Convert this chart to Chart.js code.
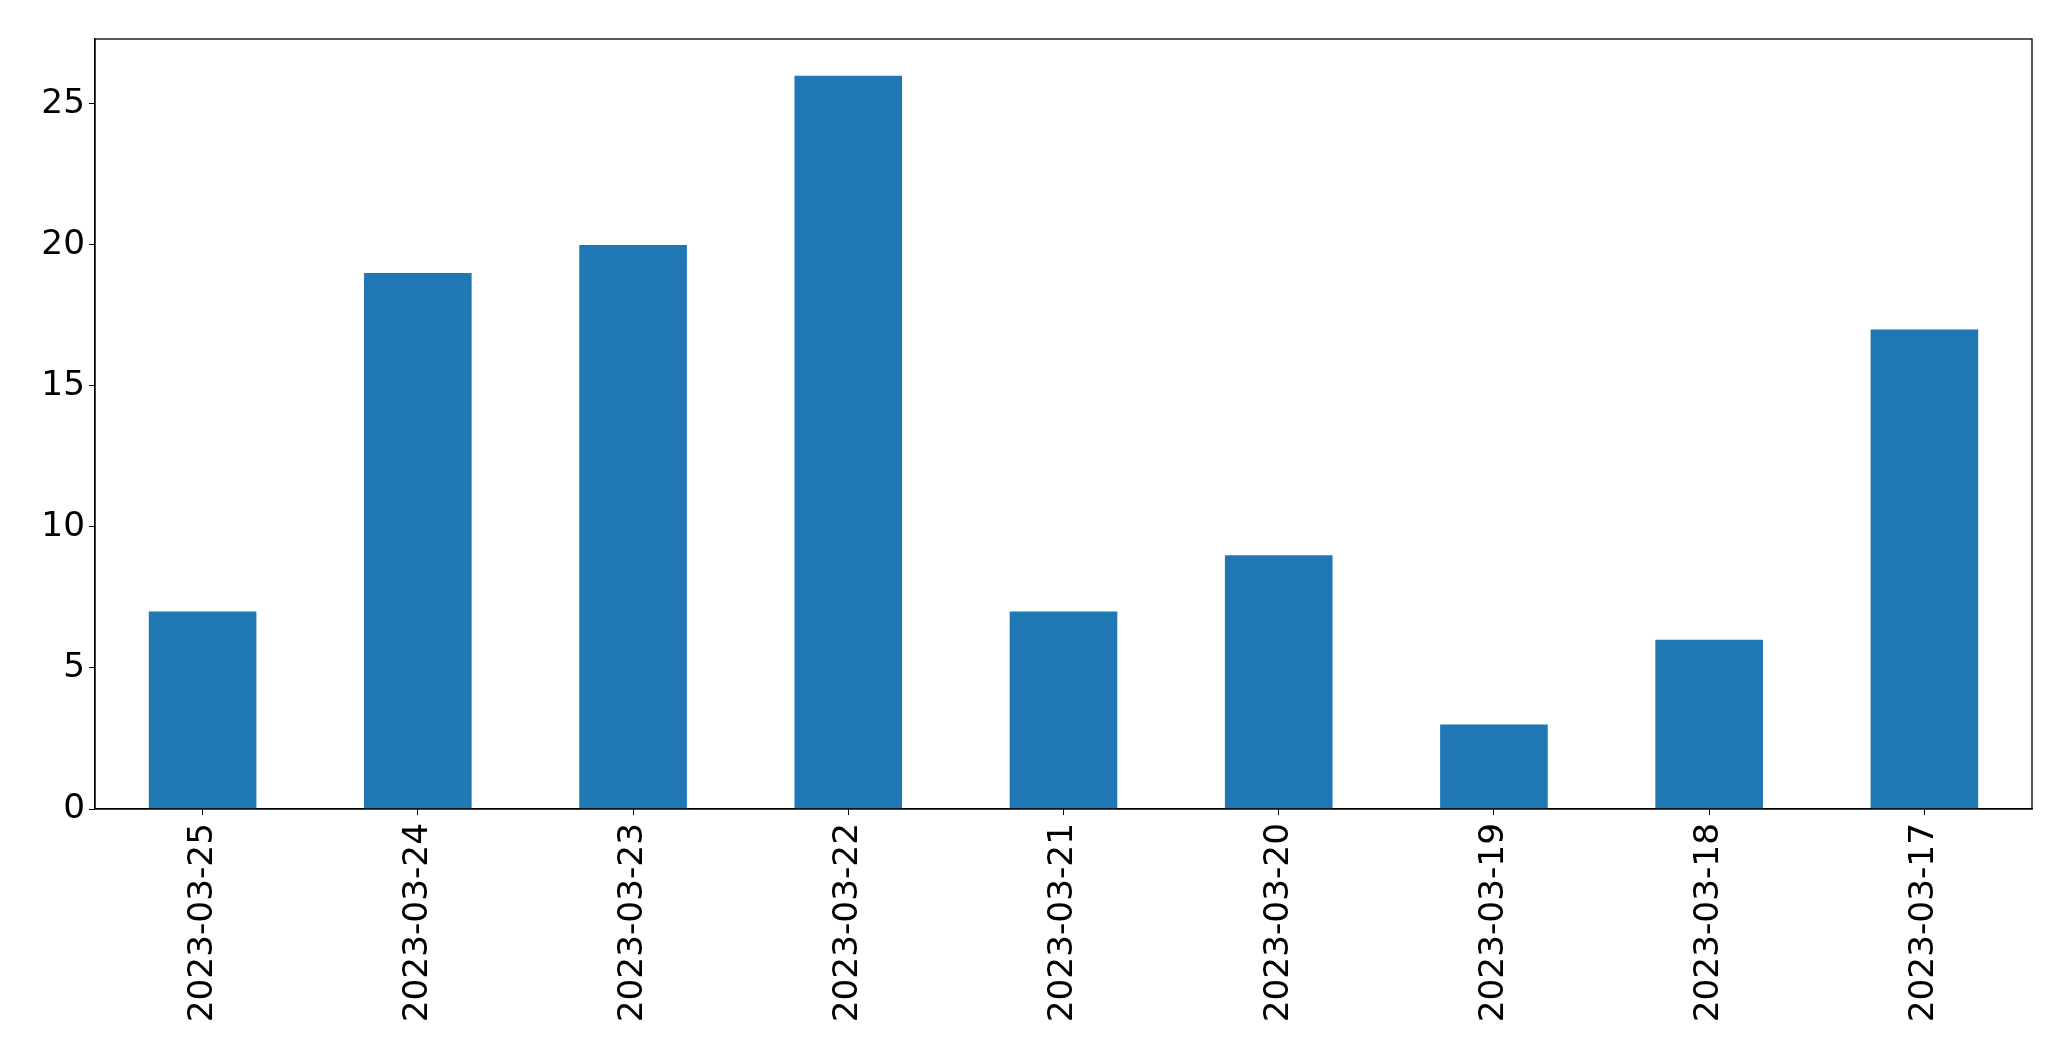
<!DOCTYPE html>
<html>
<head>
<meta charset="utf-8">
<script src="https://cdn.jsdelivr.net/npm/chart.js@4"></script>
<style>
  html, body { margin: 0; padding: 0; background: #fff; }
  #wrap { width: 2071px; height: 1061px; position: relative; }
</style>
</head>
<body>
<div id="wrap"><canvas id="c" width="2071" height="1061"></canvas></div>
<script>
const categories = ["2023-03-25","2023-03-24","2023-03-23","2023-03-22","2023-03-21","2023-03-20","2023-03-19","2023-03-18","2023-03-17"];
const counts = [7, 19, 20, 26, 7, 9, 3, 6, 17];
const yTicks = [0, 5, 10, 15, 20, 25];

const frame = {
  id: 'frame',
  afterDatasetsDraw(chart) {
    const a = chart.chartArea, ctx = chart.ctx;
    ctx.save();
    ctx.strokeStyle = '#000';
    ctx.lineWidth = 1.3;
    ctx.strokeRect(a.left, a.top, a.right - a.left, a.bottom - a.top);
    ctx.restore();
  }
};

const font = { family: 'DejaVu Sans', size: 34.3 };

new Chart(document.getElementById('c'), {
  type: 'bar',
  data: {
    labels: categories,
    datasets: [{
      data: counts,
      backgroundColor: '#1f77b4',
      borderWidth: 0,
      barPercentage: 0.5,
      categoryPercentage: 1.0
    }]
  },
  options: {
    responsive: false,
    animation: false,
    devicePixelRatio: 1,
    layout: { padding: { left: 0, right: 39, top: 39, bottom: 0 } },
    plugins: { legend: { display: false }, tooltip: { enabled: false } },
    scales: {
      x: {
        offset: true,
        grid: { drawOnChartArea: false, drawTicks: true, tickLength: 6, tickColor: '#000', offset: false },
        border: { display: true, color: '#000', width: 1.3 },
        ticks: { color: '#000', font, minRotation: 90, maxRotation: 90, padding: 8, autoSkip: false },
        afterFit(scale) { scale.height = 252; }
      },
      y: {
        min: 0,
        max: 27.3,
        grid: { drawOnChartArea: false, drawTicks: true, tickLength: 6, tickColor: '#000' },
        border: { display: true, color: '#000', width: 1.3 },
        ticks: { color: '#000', font, stepSize: 5, padding: 4 },
        afterBuildTicks(scale) { scale.ticks = yTicks.map(v => ({ value: v })); },
        afterFit(scale) { scale.width = 95; }
      }
    }
  },
  plugins: [frame]
});
</script>
</body>
</html>
